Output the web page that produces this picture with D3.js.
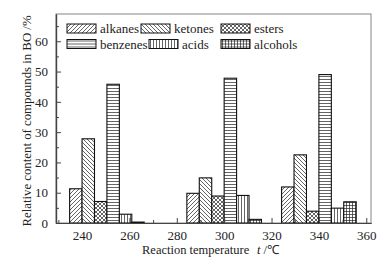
<!DOCTYPE html>
<html lang="en">
  <head>
    <meta charset="utf-8">
    <title>Relative content of compounds in BO</title>
    <script src="https://cdn.jsdelivr.net/npm/d3@7"></script>
    <style>
      body { margin: 0; background: #fff; }
      text { font-family: "Liberation Serif", "Times New Roman", serif; fill: #222; }
    </style>
  </head>
  <body>
    <script>
      // data
      var temps = [240, 300, 340];
      var compounds = ["alkanes", "ketones", "esters", "benzenes", "acids", "alcohols"];
      var alkanes  = [11.3,  9.8, 11.9];
      var ketones  = [27.8, 14.9, 22.5];
      var esters   = [ 7.1,  8.9,  3.9];
      var benzenes = [45.8, 47.8, 49.0];
      var acids    = [ 2.9,  9.1,  4.9];
      var alcohols = [ 0.3,  1.2,  7.0];
      var xTicks = [240, 260, 280, 300, 320, 340, 360];
      var yTicks = [0, 10, 20, 30, 40, 50, 60];

      var series = [alkanes, ketones, esters, benzenes, acids, alcohols];

      var w = 385, h = 265;
      // note: "top" is taken by window.top, so use a prefix
      var pLeft = 56, pRight = 371, pTop = 14, pBottom = 223;

      var svg = d3.select("body").append("svg")
        .attr("width", w)
        .attr("height", h);

      // hatch patterns
      var defs = svg.append("defs");
      function pattern(id, size, paths) {
        var p = defs.append("pattern")
          .attr("id", id)
          .attr("patternUnits", "userSpaceOnUse")
          .attr("width", size)
          .attr("height", size);
        p.append("rect").attr("width", size).attr("height", size).attr("fill", "#fff");
        paths.forEach(function(d) {
          p.append("path").attr("d", d)
            .attr("stroke", "#222")
            .attr("stroke-width", 0.7)
            .attr("fill", "none");
        });
      }
      var fwd = "M-1,1 l2,-2 M0,4 l4,-4 M3,5 l2,-2";
      var bwd = "M-1,3 l2,2 M0,0 l4,4 M3,-1 l2,2";
      pattern("p-alkanes", 4, [fwd]);
      pattern("p-ketones", 4, [bwd]);
      pattern("p-esters", 4, [fwd, bwd]);
      pattern("p-benzenes", 3, ["M0,1.5 h3"]);
      pattern("p-acids", 3, ["M1.5,0 v3"]);
      pattern("p-alcohols", 3, ["M0,1.5 h3", "M1.5,0 v3"]);

      var xScale = d3.scaleLinear().domain([229, 362]).range([pLeft, pRight]);
      var yScale = d3.scaleLinear().domain([0, 69]).range([pBottom, pTop]);

      // frame
      svg.append("rect")
        .attr("x", pLeft).attr("y", pTop)
        .attr("width", pRight - pLeft).attr("height", pBottom - pTop)
        .attr("fill", "none")
        .attr("stroke", "#999")
        .attr("stroke-width", 1.2);

      // bars: each group is 6 slots wide; anchor slot sits on the temperature
      var barW = 5.25;
      var anchorSlot = [1, 3, 3];
      var bars = [];
      temps.forEach(function(t, gi) {
        series.forEach(function(s, si) {
          bars.push({ x0: t + (si - anchorSlot[gi]) * barW, v: s[gi], name: compounds[si] });
        });
      });

      svg.selectAll("rect.bar")
        .data(bars)
        .enter()
        .append("rect")
        .attr("class", "bar")
        .attr("x", function(d) { return xScale(d.x0); })
        .attr("y", function(d) { return yScale(d.v); })
        .attr("width", function(d) { return xScale(d.x0 + barW) - xScale(d.x0); })
        .attr("height", function(d) { return yScale(0) - yScale(d.v); })
        .attr("fill", function(d) { return "url(#p-" + d.name + ")"; })
        .attr("stroke", "#111")
        .attr("stroke-width", 1.1);

      // axes with inward ticks
      var xAxis = d3.axisBottom(xScale)
        .tickValues(xTicks)
        .tickSizeInner(-5)
        .tickSizeOuter(0)
        .tickPadding(6)
        .tickFormat(d3.format("d"));
      var gx = svg.append("g")
        .attr("transform", "translate(0," + pBottom + ")")
        .call(xAxis);
      gx.selectAll("text").attr("font-size", 13).attr("dy", "0.85em");

      var xMinor = d3.axisBottom(xScale)
        .tickValues(d3.range(230, 361, 10).filter(function(v) { return xTicks.indexOf(v) < 0; }))
        .tickSizeInner(-3).tickSizeOuter(0).tickFormat("");
      svg.append("g").attr("transform", "translate(0," + pBottom + ")").call(xMinor);

      var yAxis = d3.axisLeft(yScale)
        .tickValues(yTicks)
        .tickSizeInner(-5)
        .tickSizeOuter(0)
        .tickPadding(8)
        .tickFormat(d3.format("d"));
      var gy = svg.append("g")
        .attr("transform", "translate(" + pLeft + ",0)")
        .call(yAxis);
      gy.selectAll("text").attr("font-size", 13);

      var yMinor = d3.axisLeft(yScale)
        .tickValues([5, 15, 25, 35, 45, 55, 65])
        .tickSizeInner(-3).tickSizeOuter(0).tickFormat("");
      svg.append("g").attr("transform", "translate(" + pLeft + ",0)").call(yMinor);

      svg.selectAll(".domain").attr("stroke", "#444").attr("stroke-width", 1.2);
      svg.selectAll(".tick line").attr("stroke", "#444").attr("stroke-width", 1);
      svg.selectAll(".tick text").attr("font-family", "Liberation Serif").attr("fill", "#222");

      // axis titles
      svg.append("text")
        .attr("x", 142).attr("y", 254)
        .attr("font-size", 12.5)
        .text("Reaction temperature");
      var tt = svg.append("text")
        .attr("x", 257).attr("y", 254)
        .attr("font-size", 12.5);
      tt.append("tspan").attr("font-style", "italic").text("t");
      tt.append("tspan").text(" /\u2103");

      svg.append("text")
        .attr("transform", "rotate(-90)")
        .attr("x", -121).attr("y", 31)
        .attr("text-anchor", "middle")
        .attr("font-size", 12.8)
        .text("Relative content of compounds in BO /%");

      // legend
      var legendPos = [[67, 24], [141, 24], [221, 24], [67, 39.5], [149, 39.5], [221, 39.5]];
      var lg = svg.selectAll("g.legend")
        .data(compounds)
        .enter()
        .append("g")
        .attr("class", "legend")
        .attr("transform", function(d, i) { return "translate(" + legendPos[i][0] + "," + legendPos[i][1] + ")"; });
      lg.append("rect")
        .attr("width", 29).attr("height", 9)
        .attr("fill", function(d) { return "url(#p-" + d + ")"; })
        .attr("stroke", "#111")
        .attr("stroke-width", 1);
      lg.append("text")
        .attr("x", 33).attr("y", 9)
        .attr("font-size", 13)
        .text(function(d) { return d; });
    </script>
  </body>
</html>
